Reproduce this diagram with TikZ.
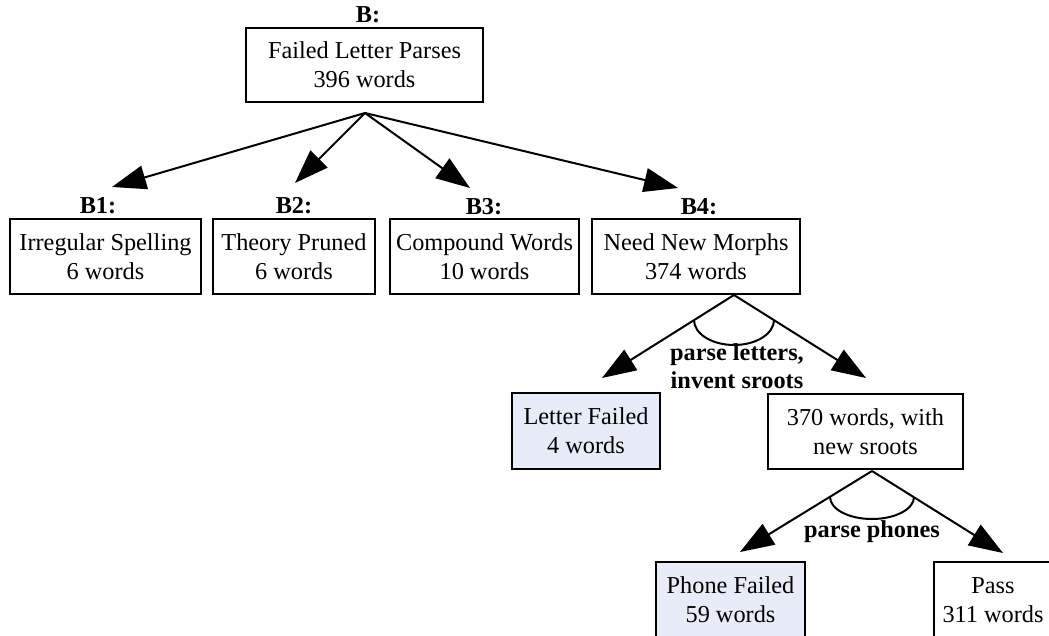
\documentclass[tikz,border=0pt]{standalone}
\usepackage{fontspec}
\setmainfont{Liberation Serif}
\usetikzlibrary{arrows.meta}
\definecolor{failfill}{RGB}{232,236,248}
\begin{document}
\begin{tikzpicture}[x=1pt,y=-1pt,
  box/.style={draw, line width=2pt, align=center, inner sep=0pt,
    font=\fontsize{24.3}{29}\selectfont},
  failbox/.style={box, fill=failfill},
  tag/.style={font=\fontsize{24.3}{28}\selectfont\bfseries, anchor=base, inner sep=0pt},
  note/.style={font=\fontsize{24.3}{28}\selectfont\bfseries, align=center, inner sep=0pt},
  branch/.style={line width=2pt, -{Triangle[length=34pt,width=24pt]}},
  andarc/.style={line width=2pt},
  ]
\clip (0,0) rectangle (1049,636);

% root
\node[box, minimum width=237pt, minimum height=74pt] (B) at (364.5,65)
  {Failed Letter Parses\\396 words};
\node[tag] (lB) at (368,23) {B:};

% first level
\node[box, minimum width=191pt, minimum height=75pt] (B1) at (105.5,256.5)
  {Irregular Spelling\\6 words};
\node[box, minimum width=162pt, minimum height=75pt] (B2) at (294,256.5)
  {Theory Pruned\\6 words};
\node[box, minimum width=189pt, minimum height=75pt] (B3) at (484.5,256.5)
  {Compound Words\\10 words};
\node[box, minimum width=208pt, minimum height=75pt] (B4) at (696,256.5)
  {Need New Morphs\\374 words};
\node[tag] (lB1) at (98,214) {B1:};
\node[tag] (lB2) at (294,214) {B2:};
\node[tag] (lB3) at (484,215) {B3:};
\node[tag] (lB4) at (699,215) {B4:};

% second level
\node[failbox, minimum width=148pt, minimum height=76pt] (LF) at (586,431)
  {Letter Failed\\4 words};
\node[box, minimum width=195pt, minimum height=75pt] (NS) at (865.5,431.5)
  {370 words, with\\new sroots};

% third level
\node[failbox, minimum width=149pt, minimum height=76pt] (PF) at (730.5,600)
  {Phone Failed\\59 words};
\node[box, minimum width=118pt, minimum height=76pt] (PS) at (993,600)
  {Pass\\311 words};

% branching points and arrow ends
\coordinate (aB) at (365,113);
\coordinate (aB4) at (734,295);
\coordinate (aNS) at (872,471);
\coordinate (tB1) at (112,187);
\coordinate (tB2) at (295,183);
\coordinate (tB3) at (470,188);
\coordinate (tB4) at (678,188);
\coordinate (tLF) at (602,378);
\coordinate (tNS) at (866,378);
\coordinate (tPF) at (740,552);
\coordinate (tPS) at (1003,553);

\draw[branch] (aB) -- (tB1);
\draw[branch] (aB) -- (tB2);
\draw[branch] (aB) -- (tB3);
\draw[branch] (aB) -- (tB4);

\draw[branch] (aB4) -- (tLF);
\draw[branch] (aB4) -- (tNS);
\draw[andarc] (694,320) arc[start angle=180, end angle=0, x radius=40, y radius=25];
\node[note] (n1) at (737,366) {parse letters,\\invent sroots};

\draw[branch] (aNS) -- (tPF);
\draw[branch] (aNS) -- (tPS);
\draw[andarc] (830,497) arc[start angle=180, end angle=0, x radius=42, y radius=22];
\node[note] (n2) at (872,532) {parse phones};
\end{tikzpicture}
\end{document}
